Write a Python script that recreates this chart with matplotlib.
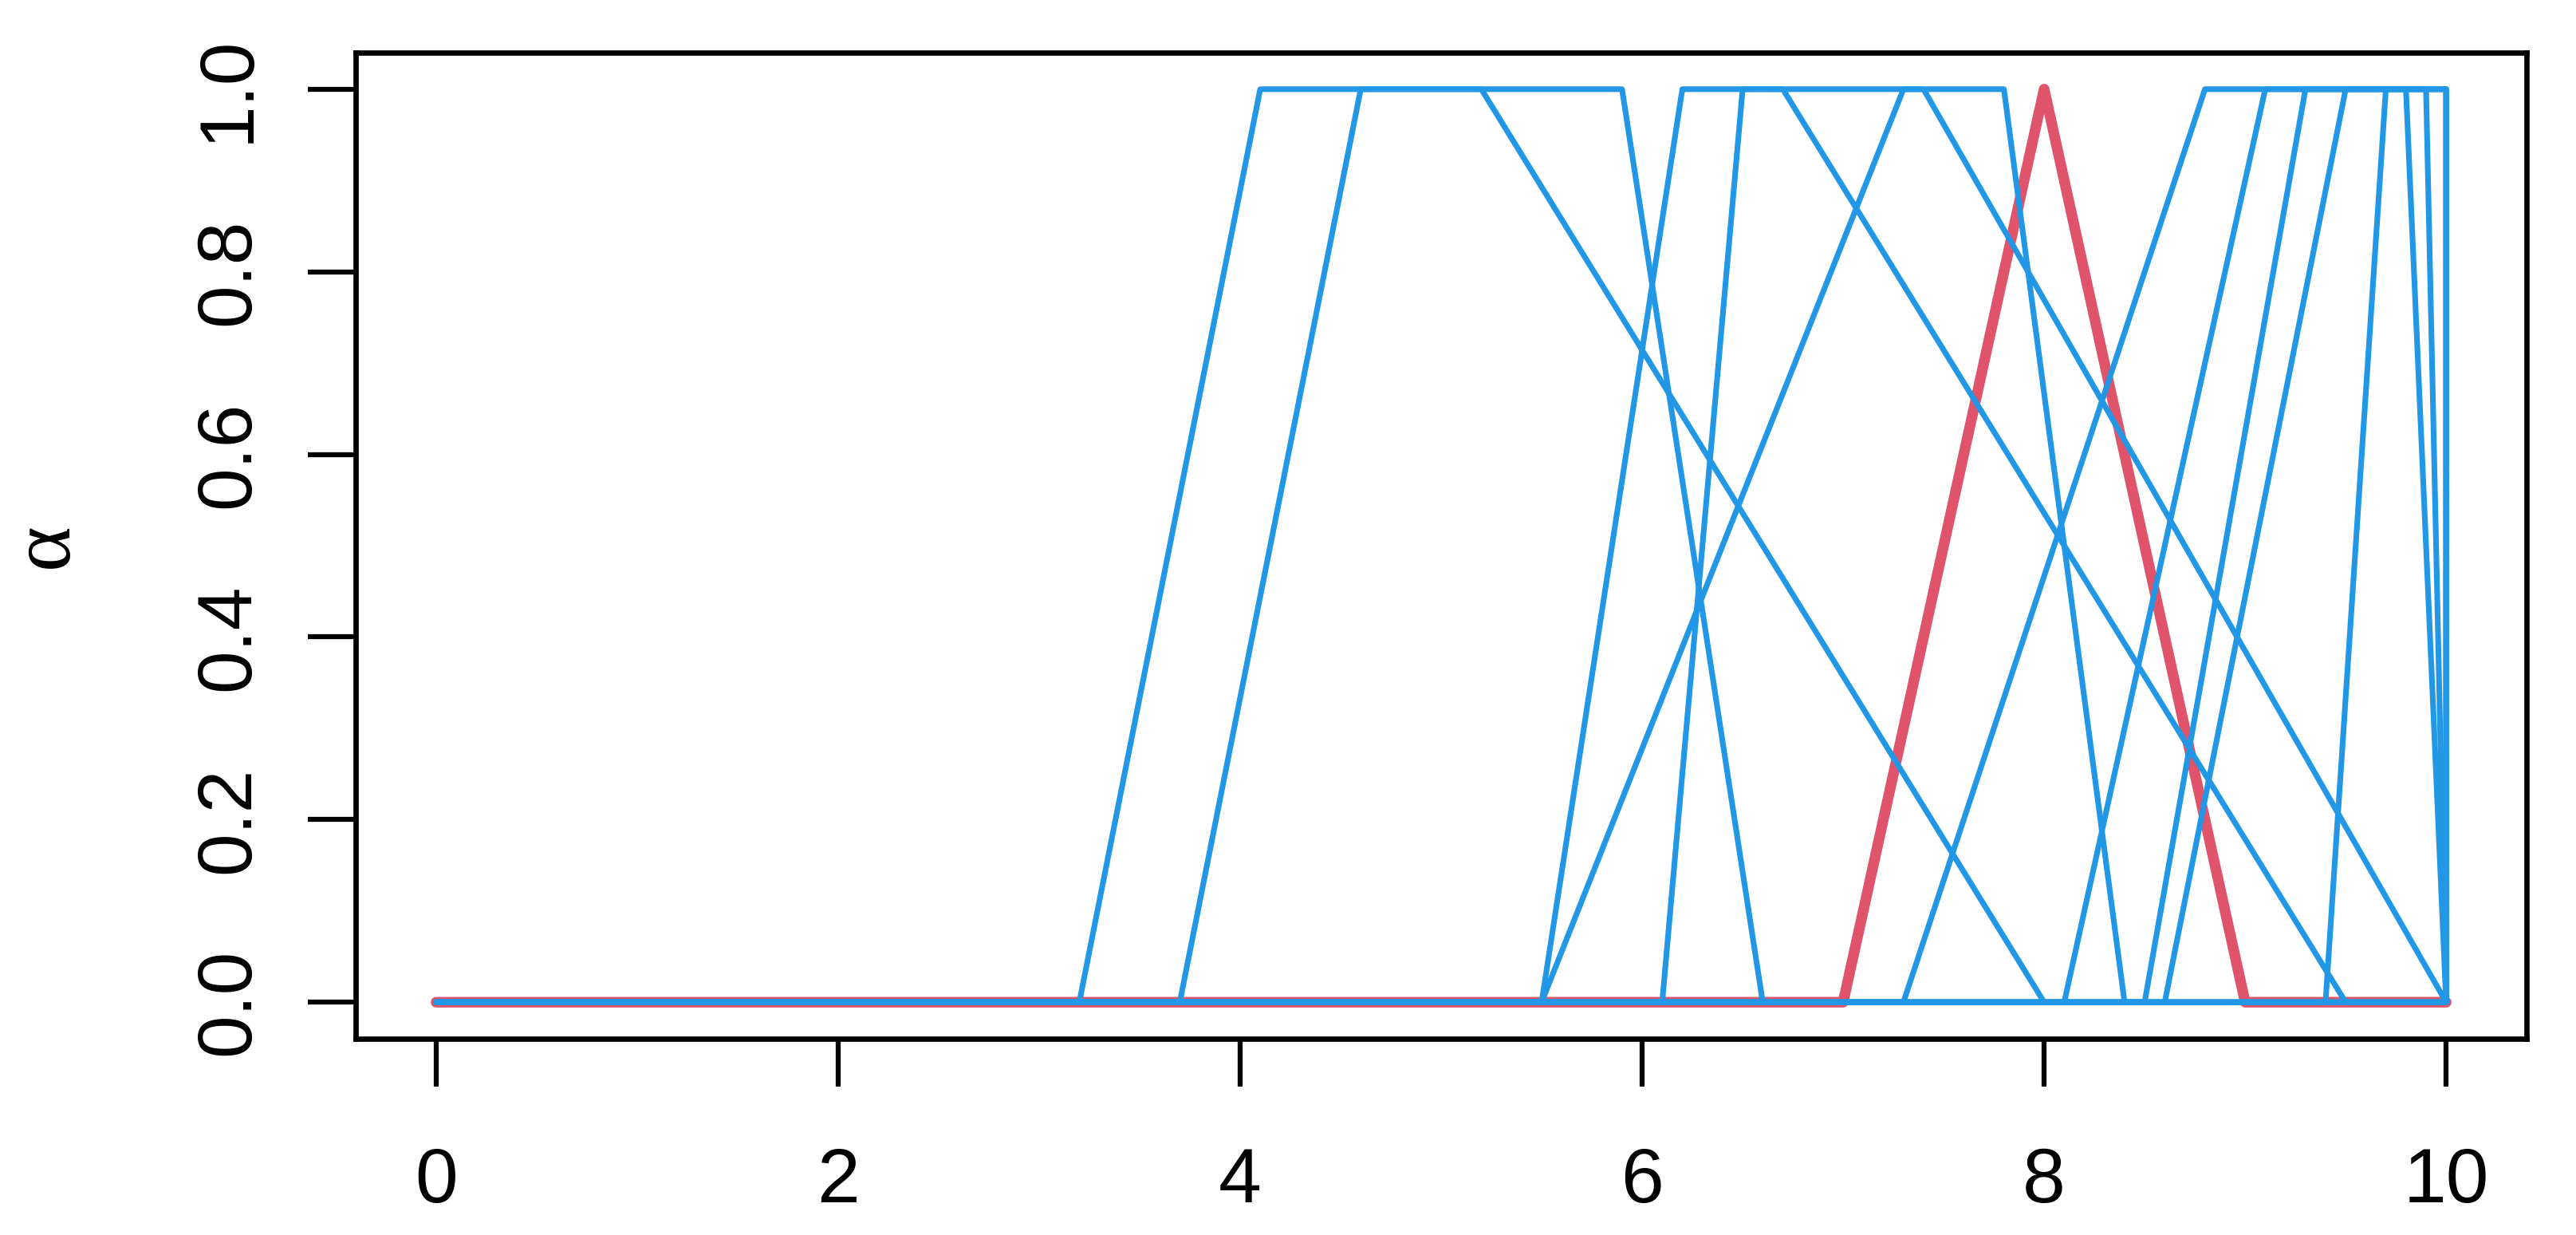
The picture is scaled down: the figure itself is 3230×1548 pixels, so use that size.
import matplotlib.pyplot as plt
import numpy as np

# trapezoidal membership functions: 0 until a, up to 1 at b, flat to c, down to 0 at d
blue_a = [3.2, 3.7, 5.5, 6.1, 5.5, 7.3, 8.1, 8.5, 8.6, 9.4]
blue_b = [4.1, 4.6, 6.2, 6.5, 7.3, 8.8, 9.1, 9.3, 9.5, 9.7]
blue_c = [5.9, 5.2, 6.7, 7.4, 7.8, 10.0, 9.8, 9.9, 10.0, 10.0]
blue_d = [6.6, 8.0, 9.5, 10.0, 8.4, 10.0, 10.0, 10.0, 10.0, 10.0]

# highlighted triangle
red_abcd = [7.0, 8.0, 8.0, 9.0]

x_lo, x_hi = 0.0, 10.0
x_ticks = [0, 2, 4, 6, 8, 10]
y_ticks = [0.0, 0.2, 0.4, 0.6, 0.8, 1.0]
y_ticklabels = ["0.0", "0.2", "0.4", "0.6", "0.8", "1.0"]

plt.rcParams["font.family"] = ["Liberation Sans", "DejaVu Sans"]

fig = plt.figure(figsize=(3230 / 600, 1548 / 600), dpi=600)
ax = fig.add_axes([446 / 3230, 1 - 1302 / 1548, (3168 - 446) / 3230, (1302 - 66) / 1548])

BLUE = "#2297E6"
RED = "#DF536B"


def trap(a, b, c, d):
    return [x_lo, a, b, c, d, x_hi], [0, 0, 1, 1, 0, 0]


xs, ys = trap(*red_abcd)
ax.plot(xs, ys, color=RED, lw=1.6, solid_capstyle="round", solid_joinstyle="round")

for a, b, c, d in zip(blue_a, blue_b, blue_c, blue_d):
    xs, ys = trap(a, b, c, d)
    ax.plot(xs, ys, color=BLUE, lw=0.85, solid_capstyle="round", solid_joinstyle="round")

ax.set_xlim(-0.4, 10.4)
ax.set_ylim(-0.04, 1.04)
ax.set_xticks(x_ticks)
ax.set_yticks(y_ticks)
ax.set_yticklabels(y_ticklabels)

for s in ax.spines.values():
    s.set_linewidth(0.8)
ax.tick_params(axis="both", direction="out", length=7.2, width=0.75, labelsize=11.6)
ax.tick_params(axis="x", pad=9.0)
ax.tick_params(axis="y", pad=6.5, labelrotation=90)
plt.setp(ax.get_yticklabels(), va="center")

fig.text(58 / 3230, 1 - 684 / 1548, "α", family="Liberation Serif", fontsize=13,
         rotation=90, ha="center", va="center")

plt.savefig("out.png", dpi=600)
